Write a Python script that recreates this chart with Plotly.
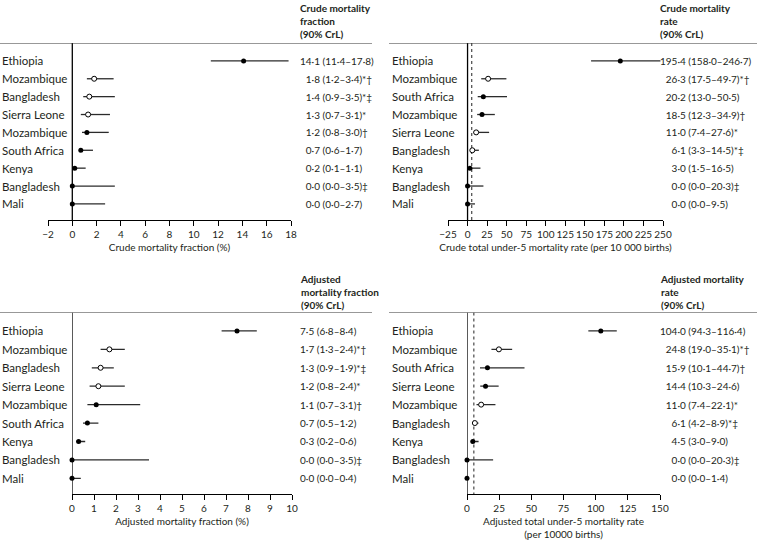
import plotly.graph_objects as go

FONT = "Lato"
TXT = "#231f20"
LINE = "#2b2b2b"

# ---------------- data ----------------
cf_countries = ["Ethiopia", "Mozambique", "Bangladesh", "Sierra Leone", "Mozambique",
                "South Africa", "Kenya", "Bangladesh", "Mali"]
cf_est = [14.1, 1.8, 1.4, 1.3, 1.2, 0.7, 0.2, 0.0, 0.0]
cf_lo = [11.4, 1.2, 0.9, 0.7, 0.8, 0.6, 0.1, 0.0, 0.0]
cf_hi = [17.8, 3.4, 3.5, 3.1, 3.0, 1.7, 1.1, 3.5, 2.7]
cf_note = ["", "*†", "*‡", "*", "†", "", "", "‡", ""]

cr_countries = ["Ethiopia", "Mozambique", "South Africa", "Mozambique", "Sierra Leone",
                "Bangladesh", "Kenya", "Bangladesh", "Mali"]
cr_est = [195.4, 26.3, 20.2, 18.5, 11.0, 6.1, 3.0, 0.0, 0.0]
cr_lo = [158.0, 17.5, 13.0, 12.3, 7.4, 3.3, 1.5, 0.0, 0.0]
cr_hi = [246.7, 49.7, 50.5, 34.9, 27.6, 14.5, 16.5, 20.3, 9.5]
cr_note = ["", "*†", "", "†", "*", "*‡", "", "‡", ""]

af_countries = ["Ethiopia", "Mozambique", "Bangladesh", "Sierra Leone", "Mozambique",
                "South Africa", "Kenya", "Bangladesh", "Mali"]
af_est = [7.5, 1.7, 1.3, 1.2, 1.1, 0.7, 0.3, 0.0, 0.0]
af_lo = [6.8, 1.3, 0.9, 0.8, 0.7, 0.5, 0.2, 0.0, 0.0]
af_hi = [8.4, 2.4, 1.9, 2.4, 3.1, 1.2, 0.6, 3.5, 0.4]
af_note = ["", "*†", "*‡", "*", "†", "", "", "‡", ""]

ar_countries = ["Ethiopia", "Mozambique", "South Africa", "Sierra Leone", "Mozambique",
                "Bangladesh", "Kenya", "Bangladesh", "Mali"]
ar_est = [104.0, 24.8, 15.9, 14.4, 11.0, 6.1, 4.5, 0.0, 0.0]
ar_lo = [94.3, 19.0, 10.1, 10.3, 7.4, 4.2, 3.0, 0.0, 0.0]
ar_hi = [116.4, 35.1, 44.7, 24.6, 22.1, 8.9, 9.0, 20.3, 1.4]
ar_note = ["", "*†", "†", "", "*", "*‡", "", "‡", ""]

reference_rate = 5.3  # dashed reference line (per 10 000 births)

titles = ["Crude mortality<br>fraction<br>(90% CrL)",
          "Crude mortality<br>rate<br>(90% CrL)",
          "Adjusted<br>mortality fraction<br>(90% CrL)",
          "Adjusted mortality<br>rate<br>(90% CrL)"]
xtitles = ["Crude mortality fraction (%)",
           "Crude total under-5 mortality rate (per 10 000 births)",
           "Adjusted mortality fraction (%)",
           "Adjusted total under-5 mortality rate<br>(per 10000 births)"]
xranges = [[-2, 18], [-25, 250], [0, 10], [0, 150]]
xdticks = [2, 25, 1, 25]

panels = [
    (cf_countries, cf_est, cf_lo, cf_hi, cf_note),
    (cr_countries, cr_est, cr_lo, cr_hi, cr_note),
    (af_countries, af_est, af_lo, af_hi, af_note),
    (ar_countries, ar_est, ar_lo, ar_hi, ar_note),
]

W, H = 757, 543

geo = [
    dict(ax=(48, 291), ay=(43, 220), yb=8.9, lab=0, val=298, rule=(0, 372), ttop=0),
    dict(ax=(448, 663), ay=(43, 220), yb=8.9, lab=390, val=658, rule=(389, 757), ttop=0),
    dict(ax=(72, 292), ay=(312.5, 494), yb=8.85, lab=0, val=298, rule=(0, 372), ttop=271),
    dict(ax=(467, 660), ay=(312.5, 494), yb=8.85, lab=390, val=658, rule=(389, 757), ttop=271),
]


def fmt(v):
    return f"{v:.1f}".replace(".", "·")


fig = go.Figure()
annotations = []
shapes = []

for i, (countries, est, lo, hi, note) in enumerate(panels):
    g = geo[i]
    xa = "x" if i == 0 else f"x{i+1}"
    ya = "y" if i == 0 else f"y{i+1}"
    rows = list(range(len(countries)))
    open_mask = ["*" in n for n in note]
    for is_open in (False, True):
        idx = [k for k in rows if open_mask[k] == is_open]
        fig.add_trace(go.Scatter(
            x=[est[k] for k in idx], y=[rows[k] for k in idx],
            xaxis=xa, yaxis=ya, mode="markers", cliponaxis=False,
            marker=dict(size=5,
                        color="white" if is_open else "black",
                        line=dict(color="black", width=1 if is_open else 0)),
            error_x=dict(type="data", symmetric=False,
                         array=[hi[k] - est[k] for k in idx],
                         arrayminus=[est[k] - lo[k] for k in idx],
                         color=LINE, thickness=1.3, width=0),
            showlegend=False, hoverinfo="skip"))

    xd = [g["ax"][0] / W, g["ax"][1] / W]
    yd = [1 - g["ay"][1] / H, 1 - g["ay"][0] / H]
    r = xranges[i]
    fig.layout[("xaxis" if i == 0 else f"xaxis{i+1}")] = dict(
        domain=xd, range=r, anchor=ya, showgrid=False, zeroline=False, automargin=False,
        showline=True, linecolor="black", linewidth=1.2,
        ticks="outside", ticklen=5, tickcolor="black", tickwidth=1.2,
        tick0=r[0], dtick=xdticks[i], tickangle=0,
        tickfont=dict(family=FONT, size=10, color=TXT),
        title=dict(text=xtitles[i], font=dict(family=FONT, size=10, color=TXT), standoff=4),
    )
    fig.layout[("yaxis" if i == 0 else f"yaxis{i+1}")] = dict(
        domain=yd, range=[g["yb"], -1], anchor=xa, visible=False, fixedrange=True,
        automargin=False)

    shapes.append(dict(type="line", xref=xa, yref=ya, x0=0, x1=0, y0=-1, y1=g["yb"],
                       line=dict(color="black", width=1.3), layer="below"))
    if i in (1, 3):
        shapes.append(dict(type="line", xref=xa, yref=ya, x0=reference_rate, x1=reference_rate,
                           y0=-1, y1=g["yb"], line=dict(color="#555", width=1.3, dash="dot"),
                           layer="below"))
    shapes.append(dict(type="line", xref="paper", yref=ya, x0=g["rule"][0] / W, x1=g["rule"][1] / W,
                       y0=-1, y1=-1, line=dict(color="#333", width=1)))

    annotations.append(dict(xref="paper", yref="paper", x=g["val"] / W, y=1 - g["ttop"] / H,
                            xanchor="left", yanchor="top", align="left", showarrow=False,
                            text="<b>" + titles[i] + "</b>",
                            font=dict(family=FONT, size=10, color=TXT)))

    maxd = max(len(str(int(v))) for v in est)
    for k in rows:
        annotations.append(dict(xref="paper", yref=ya, x=g["lab"] / W, y=rows[k],
                                xanchor="left", yanchor="middle", showarrow=False,
                                text=countries[k], font=dict(family=FONT, size=11.5, color=TXT)))
        pad = "\u2007" * (maxd - len(str(int(est[k]))))
        txt = f"{pad}{fmt(est[k])} ({fmt(lo[k])}–{fmt(hi[k])}){note[k]}"
        annotations.append(dict(xref="paper", yref=ya, x=g["val"] / W, y=rows[k],
                                xanchor="left", yanchor="middle", showarrow=False,
                                text=txt, font=dict(family=FONT, size=10, color=TXT)))

fig.update_layout(width=W, height=H, margin=dict(l=0, r=0, t=0, b=0, autoexpand=False),
                  paper_bgcolor="white", plot_bgcolor="white",
                  annotations=annotations, shapes=shapes,
                  font=dict(family=FONT, size=11, color=TXT))

fig.write_html("out.html", config={"displayModeBar": False},
               post_script="document.body.style.margin='0';document.body.style.overflow='hidden';")
